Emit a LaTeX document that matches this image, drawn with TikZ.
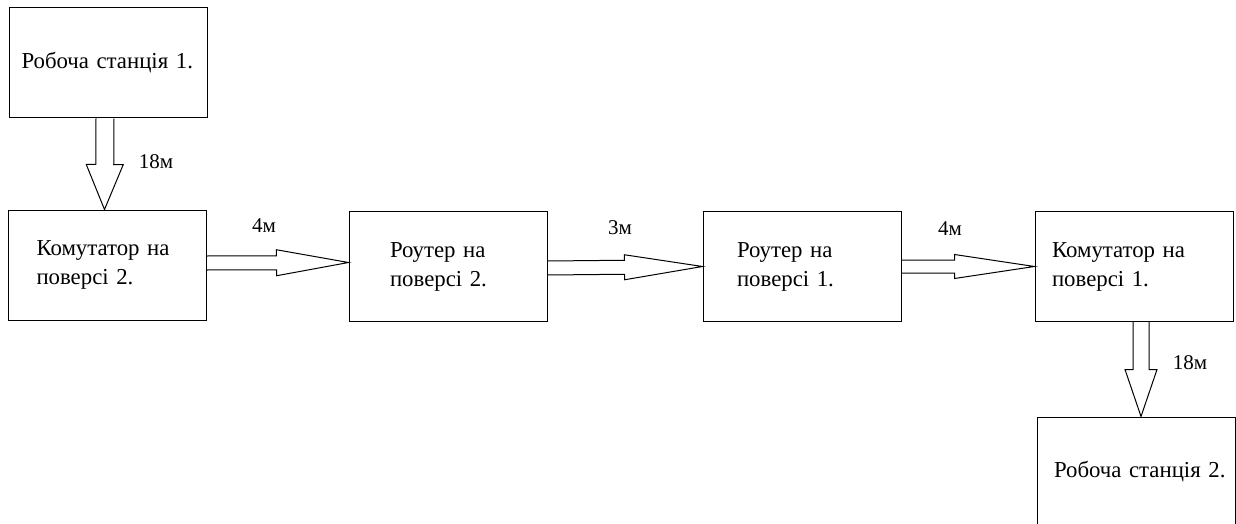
\documentclass[tikz,border=0pt]{standalone}
\usepackage{fontspec}
\setmainfont{Liberation Serif}
\usetikzlibrary{calc}

% hollow block arrow: start, tip, shaft half width, head half width, head length
\newcommand\fatarrow[5]{%
  \path (#1) coordinate (fa-s) (#2) coordinate (fa-t);
  \path ($(fa-t)!#5!(fa-s)$) coordinate (fa-h);
  \draw ($(fa-s)!#3!90:(fa-t)$) -- ($(fa-h)!#3!90:(fa-t)$) -- ($(fa-h)!#4!90:(fa-t)$)
    -- (fa-t) -- ($(fa-h)!#4!-90:(fa-t)$) -- ($(fa-h)!#3!-90:(fa-t)$) -- ($(fa-s)!#3!-90:(fa-t)$);
}

\tikzset{
  box/.style={draw, minimum width=198pt, minimum height=110pt, inner sep=0pt,
    align=left, text width=#1, font=\fontsize{22.8}{29}\selectfont},
  dist/.style={font=\fontsize{21}{25}\selectfont}
}

\begin{document}
\begin{tikzpicture}[x=1pt,y=-1pt,line width=1pt]
  \useasboundingbox (0,0) rectangle (1236,524);

  \node[box=173pt] at (108,63) (WS1) {Робоча станція 1.};
  \node[box=142pt] at (107.5,265) (K2) {Комутатор на\\поверсі 2.};
  \node[box=116pt] at (448,266.5) (R2) {Роутер на\\поверсі 2.};
  \node[box=130pt] at (802,266.5) (R1) {Роутер на\\поверсі 1.};
  \node[box=164pt] at (1134,266.5) (K1) {Комутатор на\\поверсі 1.};
  \node[box=184pt] at (1136,472) (WS2) {\hspace*{10pt}Робоча станція 2.};

  \node[dist] at (156,162) (d1) {18м};
  \node[dist] at (264,226) (d2) {4м};
  \node[dist] at (620,228) (d3) {3м};
  \node[dist] at (950,229) (d4) {4м};
  \node[dist] at (1190,363) (d5) {18м};

  \fatarrow{[xshift=-3pt]WS1.south}{[xshift=-3pt]K2.north}{9pt}{18.5pt}{45pt}
  \fatarrow{[yshift=2pt]K2.east}{[yshift=4pt]R2.west}{7pt}{13pt}{72pt}
  \fatarrow{[yshift=-1.5pt]R2.east}{R1.west}{7pt}{12.5pt}{78pt}
  \fatarrow{R1.east}{K1.west}{6.5pt}{12pt}{80pt}
  \fatarrow{[xshift=7pt]K1.south}{[xshift=5pt]WS2.north}{8pt}{16pt}{47pt}
\end{tikzpicture}
\end{document}
